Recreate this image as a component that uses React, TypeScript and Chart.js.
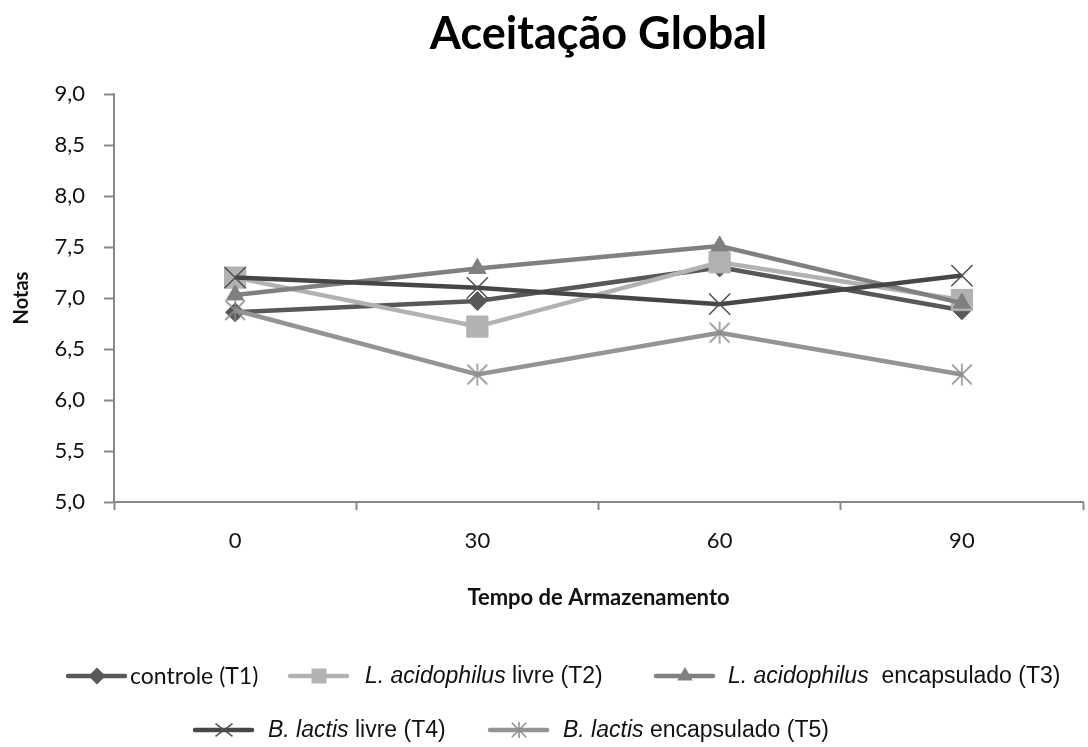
import React, { useEffect, useRef } from 'react';
import { Chart, registerables } from 'chart.js';

Chart.register(...registerables);

// ---------------- data ----------------
const chartTitle = 'Aceitação Global';
const xAxisTitle = 'Tempo de Armazenamento';
const yAxisTitle = 'Notas';
const categories = ['0', '30', '60', '90'];

const controleT1 = [6.86, 6.97, 7.3, 6.88];
const acidophilusLivreT2 = [7.2, 6.72, 7.35, 6.98];
const acidophilusEncapsuladoT3 = [7.03, 7.29, 7.51, 6.95];
const lactisLivreT4 = [7.2, 7.1, 6.94, 7.22];
const lactisEncapsuladoT5 = [6.88, 6.25, 6.66, 6.25];

const yMin = 5.0;
const yMax = 9.0;
const yStep = 0.5;

const legendItalic = ['', 'L. acidophilus', 'L. acidophilus', 'B. lactis', 'B. lactis'];
const legendRest = ['controle (T1)', ' livre (T2)', '  encapsulado (T3)', ' livre (T4)', ' encapsulado (T5)'];

// ---------------- styles ----------------
const colors = ['#585858', '#b2b2b2', '#808080', '#464646', '#949494'];
const markerColors = ['#585858', '#b2b2b2', '#808080', '#505050', '#8c8c8c'];

function makeAsterisk(color: string, r: number, lw: number) {
  const c = document.createElement('canvas');
  const s = Math.ceil(2 * r + 4);
  c.width = s;
  c.height = s;
  const ctx = c.getContext('2d')!;
  const m = s / 2;
  ctx.strokeStyle = color;
  ctx.lineWidth = lw;
  ctx.beginPath();
  ctx.moveTo(m, m - r);
  ctx.lineTo(m, m + r);
  const d = r * 0.9;
  ctx.moveTo(m - d, m - d);
  ctx.lineTo(m + d, m + d);
  ctx.moveTo(m - d, m + d);
  ctx.lineTo(m + d, m - d);
  ctx.stroke();
  return c;
}

function drawMarker(ctx: CanvasRenderingContext2D, idx: number, x: number, y: number, star: HTMLCanvasElement) {
  const col = markerColors[idx];
  ctx.save();
  ctx.fillStyle = col;
  ctx.strokeStyle = col;
  ctx.beginPath();
  if (idx === 0) {
    const r = 8.5;
    ctx.moveTo(x, y - r);
    ctx.lineTo(x + r, y);
    ctx.lineTo(x, y + r);
    ctx.lineTo(x - r, y);
    ctx.closePath();
    ctx.fill();
  } else if (idx === 1) {
    const h = 7.5;
    ctx.rect(x - h, y - h, 2 * h, 2 * h);
    ctx.fill();
  } else if (idx === 2) {
    const r = 9;
    ctx.moveTo(x, y - r);
    ctx.lineTo(x + r * 0.866, y + r * 0.5);
    ctx.lineTo(x - r * 0.866, y + r * 0.5);
    ctx.closePath();
    ctx.fill();
  } else if (idx === 3) {
    const d = 8.5;
    ctx.lineWidth = 1.5;
    ctx.moveTo(x - d, y - d * 0.75);
    ctx.lineTo(x + d, y + d * 0.75);
    ctx.moveTo(x - d, y + d * 0.75);
    ctx.lineTo(x + d, y - d * 0.75);
    ctx.stroke();
  } else {
    ctx.drawImage(star, x - star.width / 2, y - star.height / 2);
  }
  ctx.restore();
}

export default function App() {
  const ref = useRef<HTMLCanvasElement | null>(null);

  useEffect(() => {
    if (!ref.current) return;
    const bigStar = makeAsterisk(markerColors[4], 11, 1.5);
    const smallStar = makeAsterisk(markerColors[4], 8, 1.5);

    const legendLayout = [
      { x0: 68, y: 676, textX: 130 },
      { x0: 290, y: 676, textX: 365 },
      { x0: 656, y: 676, textX: 728 },
      { x0: 195, y: 730, textX: 268 },
      { x0: 490, y: 730, textX: 563 },
    ];

    const textPlugin = {
      id: 'textPlugin',
      afterDraw(chart: any) {
        const ctx: CanvasRenderingContext2D = chart.ctx;
        const area = chart.chartArea;
        ctx.save();
        ctx.fillStyle = '#000';
        ctx.font = 'bold 45px Lato';
        ctx.textAlign = 'center';
        ctx.textBaseline = 'alphabetic';
        ctx.fillText(chartTitle, (area.left + area.right) / 2, 49);

        legendLayout.forEach((p, i) => {
          ctx.save();
          ctx.strokeStyle = colors[i];
          ctx.lineWidth = 4.5;
          ctx.lineCap = 'round';
          ctx.beginPath();
          ctx.moveTo(p.x0, p.y);
          ctx.lineTo(p.x0 + 57, p.y);
          ctx.stroke();
          ctx.restore();
          drawMarker(ctx, i, p.x0 + 29, p.y, smallStar);

          ctx.fillStyle = '#111';
          ctx.textAlign = 'left';
          ctx.textBaseline = 'middle';
          let tx = p.textX;
          if (i === 0) {
            ctx.font = '23px Lato';
            ctx.fillText(legendRest[i], tx, p.y + 1);
          } else {
            ctx.font = 'italic 23px "Liberation Sans"';
            ctx.fillText(legendItalic[i], tx, p.y + 1);
            tx += ctx.measureText(legendItalic[i]).width;
            ctx.font = '23px "Liberation Sans"';
            ctx.fillText(legendRest[i], tx, p.y + 1);
          }
        });
        ctx.restore();
      },
    };

    const mk = (label: string, data: number[], idx: number, style: any, radius: number, order: number) => ({
      label,
      data,
      borderColor: colors[idx],
      backgroundColor: markerColors[idx],
      borderWidth: 4.5,
      pointStyle: style,
      pointRadius: radius,
      pointBackgroundColor: markerColors[idx],
      pointBorderColor: markerColors[idx],
      pointBorderWidth: idx >= 3 ? 1.5 : 1,
      tension: 0,
      order,
    });

    const chart = new Chart(ref.current, {
      type: 'line',
      data: {
        labels: categories,
        datasets: [
          mk('controle (T1)', controleT1, 0, 'rectRot', 9.5, 4),
          mk('L. acidophilus livre (T2)', acidophilusLivreT2, 1, 'rect', 15, 3),
          mk('L. acidophilus encapsulado (T3)', acidophilusEncapsuladoT3, 2, 'triangle', 10, 2),
          mk('B. lactis livre (T4)', lactisLivreT4, 3, 'crossRot', 15, 1),
          mk('B. lactis encapsulado (T5)', lactisEncapsuladoT5, 4, bigStar, 11, 0),
        ],
      },
      options: {
        animation: false,
        responsive: false,
        maintainAspectRatio: false,
        events: [],
        layout: { autoPadding: false, padding: { left: 0, top: 94, right: 5, bottom: 125 } },
        plugins: {
          legend: { display: false },
          title: { display: false },
          tooltip: { enabled: false },
        },
        scales: {
          x: {
            type: 'category',
            offset: true,
            afterFit: (s: any) => {
              s.height = 120;
              s.paddingLeft = 0;
              s.paddingRight = 0;
            },
            grid: {
              offset: true,
              drawOnChartArea: false,
              drawTicks: true,
              tickLength: 8,
              tickColor: '#888888',
              tickWidth: 2,
            },
            border: { display: true, color: '#888888', width: 2 },
            ticks: {
              color: '#111',
              font: { family: 'Lato', size: 22 },
              padding: 18,
              maxRotation: 0,
            },
            title: {
              display: true,
              text: xAxisTitle,
              color: '#111',
              font: { family: 'Lato', size: 22, weight: 'bold' },
              padding: { top: 0, bottom: 11 },
            },
          },
          y: {
            type: 'linear',
            min: yMin,
            max: yMax,
            afterFit: (s: any) => {
              s.width = 114;
              s.paddingTop = 0;
              s.paddingBottom = 0;
            },
            grid: {
              drawOnChartArea: false,
              drawTicks: true,
              tickLength: 10,
              tickColor: '#888888',
              tickWidth: 2,
            },
            border: { display: true, color: '#888888', width: 2 },
            ticks: {
              stepSize: yStep,
              color: '#111',
              font: { family: 'Lato', size: 22 },
              padding: 19,
              callback: (v: any) => Number(v).toFixed(1).replace('.', ','),
            },
            title: {
              display: true,
              text: yAxisTitle,
              color: '#111',
              font: { family: 'Lato', size: 20, weight: 'bold' },
              padding: { top: 10, bottom: 0 },
            },
          },
        },
      },
      plugins: [textPlugin],
    });
    return () => chart.destroy();
  }, []);

  return (
    <div style={{ position: 'absolute', left: 0, top: 0, width: 1088, height: 747, background: '#fff' }}>
      <canvas ref={ref} width={1088} height={747} style={{ display: 'block', width: 1088, height: 747 }} />
    </div>
  );
}
